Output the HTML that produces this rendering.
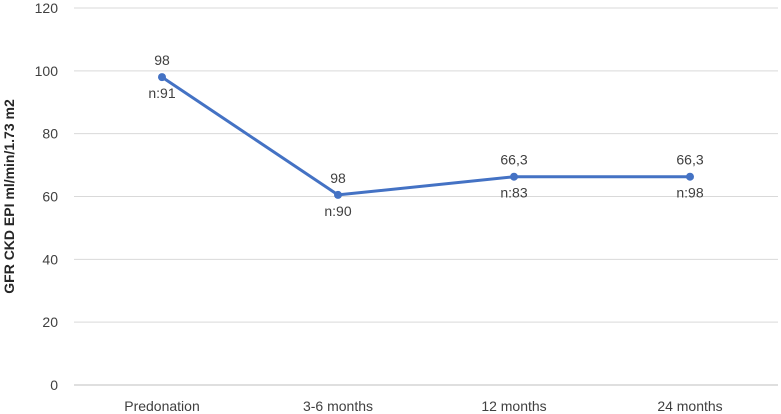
<!DOCTYPE html>
<html><head><meta charset="utf-8"><style>
body{margin:0;background:#fff;}
svg{display:block;font-family:"Liberation Sans",sans-serif;}
</style></head><body>
<svg id="chart" width="781" height="414"></svg>
<script>
const categories=["Predonation","3-6 months","12 months","24 months"];
const values=[98,60.5,66.3,66.3];
const topLabels=["98","98","66,3","66,3"];
const bottomLabels=["n:91","n:90","n:83","n:98"];
const yTicks=[0,20,40,60,80,100,120];
const NS="http://www.w3.org/2000/svg";
const svgEl=document.getElementById("chart");
const plotLeft=74,plotRight=778,plotTop=8,plotBottom=385,yMax=120;
const band=(plotRight-plotLeft)/categories.length;
const xPos=i=>plotLeft+band*(i+0.5);
const yPos=v=>plotBottom-(v/yMax)*(plotBottom-plotTop);
function mk(tag,attrs,txt){const e=document.createElementNS(NS,tag);for(const k in attrs)e.setAttribute(k,attrs[k]);if(txt!==undefined)e.textContent=txt;svgEl.appendChild(e);return e;}
yTicks.forEach(t=>{
  const g=mk("line",{x1:plotLeft,x2:plotRight,y1:yPos(t),y2:yPos(t),stroke:t===0?"#bfbfbf":"#d9d9d9","stroke-width":1});
  
  
  const l=mk("text",{x:plotLeft-16,y:yPos(t)+5,"text-anchor":"end","font-size":14,fill:"#404040"},t);
  
  
});
categories.forEach((c,i)=>{
  const l=mk("text",{x:xPos(i),y:411,"text-anchor":"middle","font-size":14,fill:"#404040"},c);
  
  
});
const yt=mk("text",{x:0,y:0,transform:"translate(14,"+((plotTop+plotBottom)/2)+") rotate(-90)","text-anchor":"middle","font-size":14,"font-weight":"bold",fill:"#262626"},"GFR CKD EPI ml/min/1.73 m2");


const pts=values.map((v,i)=>xPos(i)+","+yPos(v)).join(" ");
const line=mk("polyline",{points:pts,fill:"none",stroke:"#4472c4","stroke-width":3,"stroke-linejoin":"round"});


values.forEach((v,i)=>{
  const p=mk("circle",{cx:xPos(i),cy:yPos(v),r:4,fill:"#4472c4"});
  
  
  const a=mk("text",{x:xPos(i),y:yPos(v)-12,"text-anchor":"middle","font-size":14,fill:"#404040"},topLabels[i]);
  
  
  const b=mk("text",{x:xPos(i),y:yPos(v)+21,"text-anchor":"middle","font-size":14,fill:"#404040"},bottomLabels[i]);
  
  
});
</script>
</body></html>
